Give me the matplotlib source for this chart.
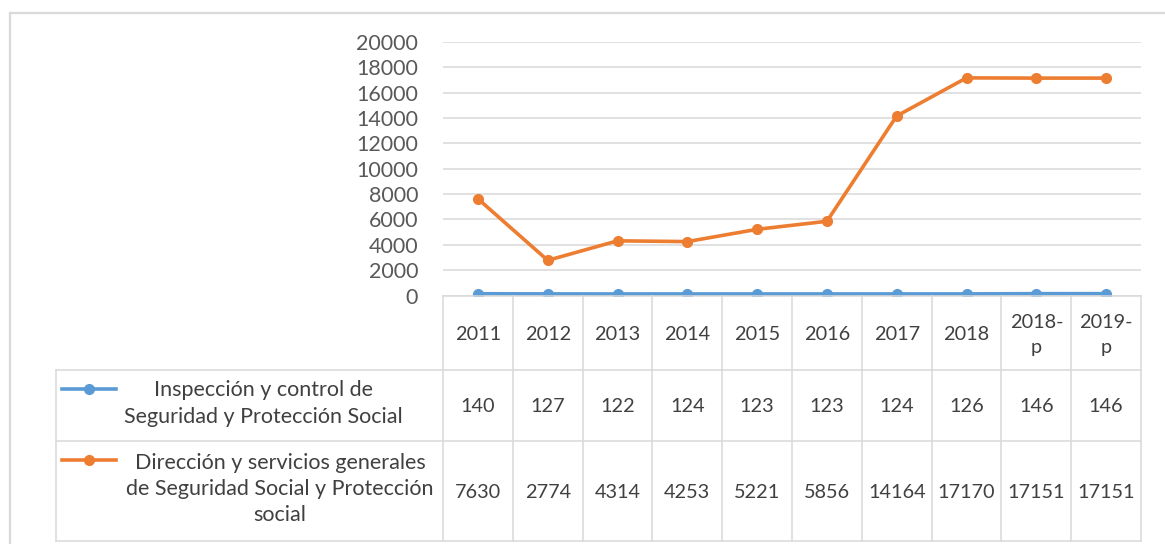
import numpy as np
import matplotlib
matplotlib.use("Agg")
from matplotlib import pyplot as plt
from matplotlib.lines import Line2D

plt.rcParams['font.family'] = ['Lato', 'DejaVu Sans']

years = ["2011", "2012", "2013", "2014", "2015", "2016", "2017", "2018", "2018-\np", "2019-\np"]
inspeccion = [140, 127, 122, 124, 123, 123, 124, 126, 146, 146]
direccion = [7630, 2774, 4314, 4253, 5221, 5856, 14164, 17170, 17151, 17151]
series_names = ["Inspección y control de\nSeguridad y Protección Social",
                "Dirección y servicios generales\nde Seguridad Social y Protección\nsocial"]
series_colors = ["#5B9BD5", "#ED7D31"]
yticks = np.arange(0, 20001, 2000)

W, H = 1165, 544
fig = plt.figure(figsize=(W / 100, H / 100), dpi=100)

def fbox(x0, y0, x1, y1):
    # pixel box (top-left origin) -> figure rect
    return [x0 / W, 1 - y1 / H, (x1 - x0) / W, (y1 - y0) / H]

grid_c = "#D9D9D9"
text_c = "#404040"

# outer chart border
fig.add_artist(Line2D([10 / W, 1], [1 - 13 / H] * 2, color=grid_c, lw=1.6))
fig.add_artist(Line2D([10 / W] * 2, [0, 1 - 13 / H], color=grid_c, lw=1.6))

# --- line plot ---
ax = fig.add_axes(fbox(443, 42, 1141, 295.5))
x = np.arange(len(years))
for vals, c in zip([inspeccion, direccion], series_colors):
    ax.plot(x, vals, color=c, lw=2.6, marker="o", ms=7, zorder=3)
ax.set_xlim(-0.5, len(years) - 0.5)
ax.set_ylim(0, 20000)
ax.set_yticks(yticks)
ax.set_yticklabels([str(v) for v in yticks], fontsize=15.5, color="#595959")
ax.set_xticks([])
ax.tick_params(axis="y", length=0, pad=18)
ax.grid(axis="y", color=grid_c, lw=1.1)
ax.set_axisbelow(True)
for s in ax.spines.values():
    s.set_visible(False)

# --- data table ---
col_w = (1141 - 443) / len(years)
label_w = (443 - 56) / col_w
tb = fig.add_axes(fbox(56, 295.5, 1141, 541))
tb.set_xlim(-0.5 - label_w, len(years) - 0.5)
tb.set_ylim(541, 295.5)
tb.axis("off")
rows = [295.5, 370, 441, 541]

# vertical lines
for i in range(len(years) + 1):
    tb.plot([i - 0.5] * 2, [rows[0], rows[-1]], color=grid_c, lw=1.1, clip_on=False)
tb.plot([-0.5 - label_w] * 2, [rows[1], rows[-1]], color=grid_c, lw=1.1, clip_on=False)
# horizontal lines
tb.plot([-0.5, len(years) - 0.5], [rows[0]] * 2, color=grid_c, lw=1.1, clip_on=False)
for r in rows[1:]:
    tb.plot([-0.5 - label_w, len(years) - 0.5], [r] * 2, color=grid_c, lw=1.1, clip_on=False)

for i, yr in enumerate(years):
    tb.text(i, (rows[0] + rows[1]) / 2 + 2, yr, ha="center", va="center",
            fontsize=14.3, color=text_c, linespacing=1.55)
    tb.text(i, (rows[1] + rows[2]) / 2 + 1, str(inspeccion[i]), ha="center", va="center",
            fontsize=14.3, color=text_c)
    tb.text(i, (rows[2] + rows[3]) / 2 + 1, str(direccion[i]), ha="center", va="center",
            fontsize=14.3, color=text_c)

# legend keys and row labels
def px_to_col(px):
    return -0.5 - label_w + (px - 56) / col_w

key_y = [389, 460]
label_cx = [263, 280]
for k, (name, c) in enumerate(zip(series_names, series_colors)):
    tb.plot([px_to_col(62), px_to_col(116)], [key_y[k]] * 2, color=c, lw=2.6)
    tb.plot([px_to_col(89)], [key_y[k]], marker="o", color=c, ms=7)
    tb.text(px_to_col(label_cx[k]), (rows[k + 1] + rows[k + 2]) / 2 - 2, name,
            ha="center", va="center", multialignment="center",
            fontsize=15.5, color=text_c, linespacing=1.38)

fig.savefig("out.png", dpi=100)
